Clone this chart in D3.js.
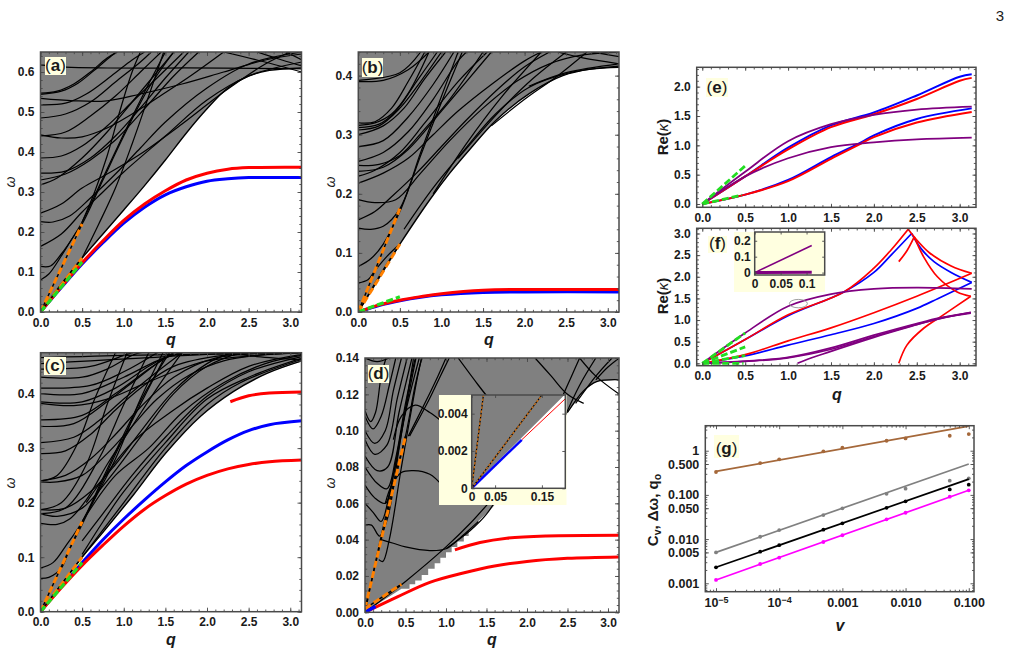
<!DOCTYPE html>
<html><head><meta charset="utf-8">
<style>
html,body{margin:0;padding:0;background:#fff}
svg{display:block}
text{font-family:"Liberation Sans",Arial,sans-serif;fill:#1a1a1a}
</style>
<script src="https://cdn.jsdelivr.net/npm/d3@7"></script>
</head><body>
<svg id="fig" width="1011" height="672"></svg>
<script>
const GREY = "#808080", RED = "#ff0000", BLUE = "#0000ff", PURPLE = "#800080",
      GREEN = "#22dd22", ORANGE = "#ff8000", CREAM = "#ffffe0", FRAME = "#4a4a4a";

// (a) dispersion, continuum edge, bound modes and continuum modes
const aEdge = [[0,0],[.25,.07],[.5,.135],[.75,.195],[1,.255],[1.25,.316],[1.5,.38],[1.75,.447],[2,.508],[2.25,.56],[2.5,.59],[2.75,.604],[3.14,.61]];
const aRed = [[0,0],[.25,.063],[.5,.123],[.75,.178],[1,.229],[1.25,.27],[1.5,.303],[1.75,.33],[2,.347],[2.25,.357],[2.5,.361],[3.14,.362]];
const aBlue = [[0,0],[.25,.061],[.5,.12],[.75,.173],[1,.222],[1.25,.262],[1.5,.293],[1.75,.313],[2,.327],[2.25,.333],[2.5,.336],[3.14,.336]];
const aOrange = [[[0,0],[.5,.22]],[[0,0],[.5,.135]]];
const aGreen = [[[0,0],[.5,.125]]];
const aModes = [
 [[0,.618],[.3,.612],[.8,.61],[1.5,.61],[2.2,.61],[3.14,.608]],
 [[0,.547],[.2,.552],[.4,.57],[.6,.6],[.8,.635],[.92,.65]],
 [[0,.544],[.25,.552],[.45,.572],[.65,.605],[.85,.64],[.92,.65]],
 [[0,.534],[.4,.528],[.8,.528],[1.2,.545],[1.7,.57],[2.2,.6],[2.7,.63],[3.14,.645]],
 [[0,.518],[.3,.522],[.55,.545],[.85,.59],[1.1,.63],[1.25,.65]],
 [[0,.485],[.3,.495],[.6,.525],[.9,.575],[1.2,.625],[1.33,.65]],
 [[0,.443],[.25,.435],[.5,.438],[.8,.46],[1.1,.495],[1.4,.535],[1.8,.59],[2.2,.65]],
 [[0,.44],[.3,.45],[.6,.49],[.9,.54],[1.2,.6],[1.45,.65]],
 [[0,.385],[.25,.39],[.5,.415],[.8,.465],[1.1,.525],[1.4,.585],[1.72,.65]],
 [[0,.347],[.3,.352],[.6,.385],[.9,.44],[1.2,.51],[1.5,.585],[1.78,.65]],
 [[0,.33],[.3,.345],[.6,.38],[.9,.43],[1.3,.52],[1.6,.59],[1.9,.65]],
 [[0,.318],[.2,.335],[.5,.385],[.8,.45],[1.1,.525],[1.4,.6],[1.6,.65]],
 [[0,.247],[.25,.27],[.5,.31],[.8,.345],[1.2,.395],[1.7,.47],[2.2,.55],[2.7,.62],[3,.65]],
 [[0,.226],[.15,.225],[.35,.24],[.6,.285],[.9,.345],[1.2,.41],[1.5,.475],[2,.56],[2.5,.62],[3.14,.65]],
 [[0,.164],[.25,.195],[.5,.25],[.75,.3],[1,.35],[1.5,.44],[2,.53],[2.5,.59],[3.14,.625]],
 [[0,.114],[.12,.115],[.25,.145],[.4,.19],[.5,.225],[.75,.335],[1,.445],[1.25,.55],[1.5,.65]],
 [[0,.08],[.1,.095],[.25,.14],[.4,.19],[.5,.22],[.75,.33],[1,.44],[1.3,.56],[1.6,.65]],
 [[.5,.135],[.7,.22],[.9,.31],[1.1,.42],[1.3,.54],[1.48,.65]],
 [[.5,.225],[.65,.3],[.8,.39],[.95,.5],[1.1,.6],[1.2,.65]],
 [[2.6,.65],[2.9,.63],[3.14,.615]],
 [[2.2,.65],[2.6,.63],[3.14,.6]],
 [[2.95,.65],[3.14,.63]]
];

// (b)
const bEdge = [[0,0],[.25,.06],[.5,.115],[.86,.19],[1.1,.235],[1.34,.275],[1.66,.325],[2.06,.37],[2.46,.4],[2.8,.411],[3.14,.414]];
const bRed = [[0,0],[.25,.012],[.5,.02],[.75,.026],[1,.031],[1.5,.037],[2,.038],[3.14,.038]];
const bBlue = [[0,0],[.25,.011],[.5,.019],[.75,.025],[1,.029],[1.5,.033],[2,.034],[3.14,.034]];
const bOrange = [[[0,0],[.5,.175]],[[0,0],[.5,.115]]];
const bGreen = [[[0,0],[.5,.026]]];
const bModes = [
 [[0,.39],[.3,.392],[.6,.41],[.85,.44]],
 [[0,.392],[.5,.405],[.75,.44]],
 [[0,.32],[.2,.322],[.4,.345],[.6,.39],[.8,.44]],
 [[0,.316],[.2,.32],[.4,.335],[.6,.37],[.85,.44]],
 [[0,.312],[.25,.318],[.45,.34],[.7,.39],[.95,.44]],
 [[0,.308],[.25,.315],[.5,.345],[.75,.39],[1,.44]],
 [[0,.3],[.3,.315],[.55,.345],[.8,.395],[1.05,.44]],
 [[0,.28],[.3,.29],[.6,.33],[.9,.385],[1.15,.44]],
 [[0,.255],[.3,.27],[.6,.305],[.9,.36],[1.2,.425],[1.3,.44]],
 [[0,.248],[.25,.25],[.5,.265],[.8,.31],[1.1,.36],[1.5,.44]],
 [[0,.238],[.3,.245],[.6,.275],[1,.34],[1.3,.39],[1.6,.44]],
 [[0,.23],[.2,.24],[.5,.27],[.8,.32],[1.2,.39],[1.55,.44]],
 [[0,.218],[.3,.235],[.6,.26],[.9,.3],[1.2,.34],[1.6,.385],[2,.425],[2.2,.44]],
 [[0,.19],[.2,.185],[.45,.19],[.75,.235],[1.1,.29],[1.5,.345],[1.9,.39],[2.3,.42],[2.7,.435],[3.14,.44]],
 [[0,.156],[.2,.17],[.4,.195],[.7,.235],[1,.28],[1.3,.325],[1.7,.38],[2,.415],[2.3,.44]],
 [[0,.142],[.15,.14],[.3,.145],[.5,.175],[.75,.27],[1,.365],[1.2,.44]],
 [[0,.077],[.15,.09],[.3,.115],[.5,.17],[.75,.265],[1,.355],[1.25,.44]],
 [[0,.049],[.12,.055],[.2,.07],[.35,.095],[.5,.115]],
 [[.55,.14],[.9,.21],[1.25,.27],[1.65,.335],[2.05,.38],[2.55,.405],[3.14,.416]],
 [[2.05,.382],[2.5,.405],[3.14,.42]],
 [[2.4,.44],[2.7,.43],[3.14,.42]],
 [[2.8,.44],[3.14,.432]],
 [[.9,.2],[1.3,.285],[1.7,.36],[2.2,.44]],
 [[1.2,.26],[1.7,.34],[2.1,.395],[2.5,.44]],
 [[1.6,.315],[2,.36],[2.4,.4],[2.75,.44]]
];

// (c)
const cEdge = [[0,0],[.25,.05],[.5,.1],[.72,.14],[1.12,.215],[1.5,.29],[1.92,.358],[2.32,.404],[2.72,.437],[3.14,.46]];
const cRedLow = [[0,0],[.25,.044],[.5,.085],[.75,.122],[1,.157],[1.25,.188],[1.5,.213],[1.75,.234],[2,.25],[2.25,.262],[2.5,.27],[2.75,.275],[3.14,.278]];
const cRedHigh = [[2.28,.385],[2.5,.396],[2.75,.401],[3.14,.403]];
const cBlue = [[0,0],[.25,.046],[.5,.09],[.75,.132],[1,.17],[1.25,.205],[1.5,.238],[1.75,.268],[2,.293],[2.25,.315],[2.5,.332],[2.75,.343],[3.14,.35]];
const cOrange = [[[0,0],[.5,.165]],[[0,0],[.5,.1]]];
const cGreen = [[[0,0],[.5,.09]]];
const cModes = [
 [[0,.08],[.15,.09],[.3,.12],[.5,.165],[.75,.245],[1,.325],[1.25,.4],[1.55,.475]],
 [[0,.061],[.1,.063],[.25,.08],[.35,.115],[.5,.16],[.75,.24],[1,.32],[1.25,.395],[1.52,.475]],
 [[0,.162],[.2,.16],[.35,.17],[.55,.205],[.8,.27],[1.1,.34],[1.4,.41],[1.7,.475]],
 [[0,.18],[.2,.175],[.5,.19],[.8,.24],[1.2,.32],[1.6,.4],[2,.45],[2.4,.475]],
 [[0,.187],[.3,.19],[.6,.22],[.9,.27],[1.2,.33],[1.6,.405],[2,.455],[2.3,.475]],
 [[0,.238],[.2,.238],[.5,.25],[.8,.29],[1.1,.34],[1.4,.39],[1.8,.435],[2.2,.46],[2.6,.47],[3.14,.475]],
 [[0,.24],[.3,.25],[.6,.28],[.9,.325],[1.2,.375],[1.6,.43],[2.1,.465],[3.14,.475]],
 [[0,.29],[.3,.295],[.6,.325],[.9,.37],[1.2,.41],[1.6,.45],[2.2,.47],[3.14,.475]],
 [[0,.31],[.4,.32],[.7,.35],[1,.39],[1.4,.44],[1.7,.475]],
 [[0,.34],[.4,.345],[.8,.385],[1.1,.42],[1.5,.465],[1.7,.475]],
 [[0,.352],[.5,.36],[.9,.4],[1.3,.445],[1.6,.475]],
 [[0,.382],[.4,.378],[.8,.39],[1.2,.415],[1.6,.44],[2,.46],[2.6,.47],[3.14,.475]],
 [[0,.385],[.5,.385],[.9,.41],[1.3,.45],[1.6,.475]],
 [[0,.4],[.5,.4],[1,.43],[1.4,.46],[1.7,.475]],
 [[0,.41],[.6,.415],[1,.44],[1.4,.475]],
 [[0,.43],[.5,.43],[.8,.445],[1.1,.47],[1.2,.475]],
 [[0,.445],[.6,.45],[1,.47],[1.1,.475]],
 [[0,.455],[.6,.46],[1.2,.465],[2,.472],[3.14,.475]],
 [[0,.466],[.5,.468],[1,.47],[3.14,.475]],
 [[.5,.1],[.75,.15],[1,.2],[1.5,.3],[2,.38],[2.4,.42],[3.14,.463]],
 [[.5,.105],[.75,.165],[1,.22],[1.5,.31],[2,.39],[2.5,.43],[3.14,.465]],
 [[.5,.13],[.75,.18],[1.1,.25],[1.5,.32],[2,.395],[2.5,.44],[3.14,.468]],
 [[.5,.165],[.9,.25],[1.3,.3],[1.7,.365],[2.2,.42],[2.7,.455],[3.14,.47]],
 [[.55,.2],[1.1,.31],[1.6,.37],[2,.41],[2.5,.45],[3.14,.472]],
 [[0,.187],[.25,.2],[.55,.27],[.8,.38],[1.04,.475]],
 [[.5,.165],[.9,.28],[1.2,.39],[1.47,.475]],
 [[0,.18],[.3,.19],[.7,.28],[1,.38],[1.3,.475]],
 [[0,.24],[.2,.25],[.45,.31],[.65,.39],[.9,.475]],
 [[2.2,.475],[2.6,.468],[3.14,.462]]
];

// (d) the lower edge of the shaded band is stepped up to q = 1.28
const dStairs = [[.45,.013],[.55,.0155],[.62,.0175],[.7,.0205],[.78,.024],[.86,.027],[.93,.03],[1,.033],[1.07,.036],[1.14,.039],[1.22,.042],[1.28,.045]];
const dEdgeRight = [[1.58,.058],[1.9,.078],[2.2,.092],[2.47,.108],[2.7,.122],[2.86,.127],[3.14,.128]];
const dRedLow = [[0,0],[.4,.0085],[.8,.0165],[1.2,.0215],[1.6,.0255],[2,.028],[2.5,.0297],[3.14,.0305]];
const dRedHigh = [[1.11,.0344],[1.42,.0384],[1.75,.0408],[2.24,.042],[3.14,.0424]];
const dBlue = [[0,0],[.13,.0032]];
const dOrange = [[[0,.002],[.5,.097]],[[0,.002],[.45,.0155]]];
const dModes = [
 [[0,.14],[.15,.138],[.3,.14]],
 [[0,.111],[.07,.105],[.13,.11],[.2,.13],[.26,.14]],
 [[0,.108],[.1,.101],[.2,.108],[.3,.125],[.38,.14]],
 [[0,.1],[.12,.093],[.25,.1],[.35,.122],[.45,.14]],
 [[0,.095],[.12,.087],[.27,.092],[.4,.118],[.52,.14]],
 [[0,.086],[.15,.078],[.28,.08],[.42,.11],[.58,.14]],
 [[0,.08],[.15,.071],[.27,.068],[.38,.085],[.5,.115],[.62,.14]],
 [[0,.07],[.12,.063],[.25,.06],[.35,.075],[.5,.11],[.67,.14]],
 [[0,.06],[.1,.055],[.2,.05],[.3,.065],[.45,.1],[.63,.14]],
 [[0,.048],[.08,.048],[.18,.042],[.28,.052],[.42,.09],[.6,.14]],
 [[.17,.029],[.22,.028],[.3,.04],[.45,.08],[.65,.13],[.7,.14]],
 [[.02,.004],[.2,.042],[.4,.08],[.5,.097],[.62,.125],[.7,.14]],
 [[.535,.097],[.76,.117],[.9,.13],[1,.14]],
 [[.55,.097],[.79,.117],[.93,.13],[1.04,.14]],
 [[.2,.04],[.35,.038],[.5,.036],[.8,.034],[1,.035],[1.2,.042],[1.4,.05]],
 [[.25,.06],[.33,.07],[.45,.077],[.6,.078],[.8,.076],[.95,.07]],
 [[.35,.095],[.45,.108],[.62,.114],[.8,.11],[.95,.105]],
 [[0,0],[.5,.017],[1,.036],[1.3,.049],[1.6,.064]],
 [[1,.035],[1.3,.045],[1.5,.054],[1.7,.068]],
 [[1.15,.14],[1.4,.125],[1.7,.108]],
 [[2.1,.14],[2.3,.13],[2.5,.12],[2.7,.115]],
 [[2.47,.108],[2.65,.125],[2.85,.14]],
 [[2.45,.12],[2.55,.13],[2.65,.14]],
 [[2.6,.115],[2.85,.13],[3.05,.14]],
 [[2.85,.128],[3,.135],[3.14,.14]],
 [[2.65,.14],[2.85,.13],[3.14,.12]],
 [[2.5,.11],[2.7,.122],[2.86,.127],[3.14,.128]]
];

// (d) inset, close-up near the origin
const dInsetEdge = [[0,0],[.2,.005]];
const dInsetOrange = [[[0,0],[.025,.005]],[[0,0],[.15,.005]]];
const dInsetBlue = [[0,0],[.107,.0026]];
const dInsetRed = [[.107,.0026],[.2,.0048]];

// (e) wavenumber against q
const eBlueLow = [[0,0],[.5,.16],[1,.41],[1.5,.8],[1.85,1.05],[2,1.17],[2.5,1.45],[3.14,1.63]];
const eRedLow = [[0,0],[.5,.16],[1,.39],[1.5,.77],[1.85,1.03],[2,1.14],[2.5,1.39],[3.14,1.57]];
const eBlueHigh = [[0,0],[.5,.47],[1,.96],[1.5,1.34],[2,1.56],[2.5,1.85],[3,2.17],[3.14,2.21]];
const eRedHigh = [[0,0],[.5,.47],[1,.93],[1.5,1.31],[2,1.53],[2.5,1.79],[3,2.1],[3.14,2.15]];
const ePurpleHigh = [[0,0],[.5,.55],[1,1.07],[1.5,1.36],[2,1.52],[2.5,1.61],[3.14,1.66]];
const ePurpleLow = [[0,0],[.5,.47],[1,.78],[1.5,.97],[2,1.05],[2.5,1.1],[3.14,1.13]];
const eGreen = [[[0,0],[.5,.65]],[[0,0],[.46,.15]]];

// (f) red and blue branches meet in cusps, so each side is its own trace
const fPurpleTop = [[0,0],[.5,.7],[1,1.32],[1.5,1.6],[2,1.72],[2.5,1.75],[3.14,1.72]];
const fRedRise = [[0,0],[.5,.55],[1,1.12],[1.65,1.65],[2,2.2],[2.2,2.62],[2.4,3.1]];
const fRedFall = [[2.4,3.1],[2.5,2.85],[2.65,2.55],[2.9,2.25],[3.14,2.08]];
const fBlueRise = [[0,0],[.5,.55],[1,1.1],[1.65,1.65],[2,2.1],[2.2,2.5],[2.44,3]];
const fBlueFall = [[2.44,3],[2.55,2.65],[2.7,2.35],[2.9,2.1],[3.14,1.87]];
const fBlueLow = [[0,0],[.5,.17],[1,.42],[1.5,.66],[2,.92],[2.5,1.27],[2.75,1.5],[3.14,1.87]];
const fRedLow = [[0,0],[.5,.2],[1,.52],[1.5,.82],[2,1.17],[2.5,1.55],[3.14,2.08]];
const fRedBranchUp = [[2.29,2.35],[2.385,2.6],[2.47,2.92]];
const fRedBranchDown = [[2.47,2.92],[2.58,2.46],[2.74,2],[2.97,1.65],[3.13,1.55]];
const fRedBranchLow = [[2.29,0],[2.385,.42],[2.58,.81],[2.81,1.12],[3.13,1.55]];
const fPurpleLowA = [[0,0],[.5,.05],[.98,.13],[1.49,.35],[2,.65],[2.5,.92],[2.77,1.05],[3.13,1.17]];
const fPurpleLowB = [[1.11,0],[1.22,.09],[1.49,.27],[2,.6],[2.5,.89],[2.77,1.04],[3.13,1.16]];
const fPurpleLowC = [[0,0],[.5,.045],[.98,.12],[1.49,.32],[2,.62],[2.5,.9],[2.77,1.03],[3.13,1.18]];
const fGreen = [[[0,0],[.5,.7]],[[0,0],[.5,.38]],[[0,0],[.5,.18]],[[0,0],[.48,0]]];
const fInsetPurple = [[0,0],[.11,.17]];
const fInsetFlat = [[0,0],[.11,.002]];

// (g) fitted power laws and measured points
const vValues = [1e-5,5e-5,1e-4,5e-4,1e-3,5e-3,.01,.05,.1];
const brownPts = [.33,.526,.637,.966,1.17,1.68,1.9,2.18,2.38];
const greyPts = [.005,.0113,.016,.035,.0496,.106,.138,.21,.237];
const blackPts = [.0023,.0052,.0073,.0163,.0227,.051,.0714,.133,.17];
const magentaPts = [.00119,.00273,.0038,.0086,.0122,.028,.0395,.091,.127];
const brownFit = [.34,3.6];
const greyFit = [.005,.5];
const blackFit = [.0023,.228];
const magentaFit = [.00119,.127];
const gXTicks = [1e-5,1e-4,1e-3,.01,.1];
const gYTicks = [1,.5,.1,.05,.01,.005,.001];
const gYTickLabels = ["1","0.500","0.100","0.050","0.010","0.005","0.001"];

const svg = d3.select("#fig");
const defs = svg.append("defs");
let clipCount = 0;

function steps(from, to, by){ return d3.range(Math.floor((to-from)/by+1e-9)+1).map(i => +(from+i*by).toFixed(6)); }

function panel(box, xDomain, yDomain, xScale = d3.scaleLinear(), yScale = d3.scaleLinear()){
  const x = xScale.domain(xDomain).range([box.x0, box.x1]);
  const y = yScale.domain(yDomain).range([box.y1, box.y0]);
  const id = "clip" + (clipCount++);
  defs.append("clipPath").attr("id", id).append("rect")
    .attr("x", box.x0).attr("y", box.y0).attr("width", box.x1-box.x0).attr("height", box.y1-box.y0);
  const g = svg.append("g");
  const marks = g.append("g").attr("clip-path", `url(#${id})`);
  return {box, x, y, g, marks};
}

const smooth = d3.curveCatmullRom.alpha(.5);
function traceLine(p, curve){ return d3.line().x(d => p.x(d[0])).y(d => p.y(d[1])).curve(curve || smooth); }

function stroke(p, pts, color, width, dash, curve){
  const s = p.marks.append("path").attr("d", traceLine(p, curve)(pts))
    .attr("fill","none").attr("stroke",color).attr("stroke-width",width).attr("stroke-linejoin","round");
  if (dash) s.attr("stroke-dasharray", dash);
  return s;
}

function frame(p, o){
  const {x, y, g, box} = p;
  const fs = o.fontSize || 12;
  const sides = [
    [() => d3.axisBottom(x), box.y1, 0, o.xTicks, o.xMinor, o.xFormat],
    [() => d3.axisTop(x), box.y0, 0, o.xTicks, o.xMinor, null],
    [() => d3.axisLeft(y), 0, box.x0, o.yTicks, o.yMinor, o.yFormat],
    [() => d3.axisRight(y), 0, box.x1, o.yTicks, o.yMinor, null]
  ];
  for (const [axis, ty, tx, major, minor, fmt] of sides) {
    const ag = g.append("g").attr("transform",`translate(${tx},${ty})`);
    const ma = axis().tickValues(major).tickSizeInner(-(o.major||4)).tickSizeOuter(0).tickPadding(o.padding||6)
      .tickFormat(fmt || (() => ""));
    const mi = axis().tickValues(minor||[]).tickSizeInner(-(o.minor||2.2)).tickSizeOuter(0).tickFormat(() => "");
    const a1 = ag.append("g").call(ma), a2 = ag.append("g").call(mi);
    [a1,a2].forEach(s => { s.select(".domain").remove();
      s.selectAll("line").attr("stroke",FRAME).attr("stroke-width",.9); });
    a1.selectAll("text").attr("font-family","Liberation Sans").attr("font-size",fs).attr("font-weight","bold").attr("fill","#1a1a1a");
    if (!fmt) a1.selectAll("text").remove();
    a2.selectAll("text").remove();
  }
  g.append("rect").attr("x",box.x0).attr("y",box.y0).attr("width",box.x1-box.x0).attr("height",box.y1-box.y0)
    .attr("fill","none").attr("stroke",FRAME).attr("stroke-width",1.5);
}

function tag(x0,y0,x1,y1,letter){
  svg.append("rect").attr("x",x0).attr("y",y0).attr("width",x1-x0).attr("height",y1-y0).attr("fill",CREAM);
  const t = svg.append("text").attr("x",(x0+x1)/2).attr("y",y1-4.5).attr("text-anchor","middle").attr("font-size",17);
  t.append("tspan").text("(");
  t.append("tspan").attr("font-weight","bold").text(letter);
  t.append("tspan").text(")");
}

function qLabel(x,y,txt="q"){
  svg.append("text").attr("x",x).attr("y",y).attr("text-anchor","middle")
    .attr("font-size",16).attr("font-weight","bold").attr("font-style","italic").text(txt);
}
function rotated(x,y,build){
  const t = svg.append("text").attr("transform",`translate(${x},${y}) rotate(-90)`).attr("text-anchor","middle");
  build(t);
}
const omegaLabel = (x,y) => rotated(x,y,t => t.attr("font-size",14).attr("font-style","italic").attr("font-family","DejaVu Sans").text("ω"));
const reKappa = (x,y) => rotated(x,y,t => {
  t.attr("font-size",15).attr("font-weight","bold");
  t.append("tspan").text("Re(");
  t.append("tspan").attr("font-style","italic").attr("font-weight","normal").text("κ");
  t.append("tspan").text(")");
});

const f1 = d3.format(".1f"), f2 = d3.format(".2f");
const qTicks = steps(0,3,.5), qMinor = steps(0,3.1,.1);

function shade(p, edge, xMax, yMax, curve){
  const pts = [...edge, [xMax, edge[edge.length-1][1]]];
  p.marks.append("path").attr("d", d3.area().x(d=>p.x(d[0])).y0(p.y(yMax)).y1(d=>p.y(d[1])).curve(curve || smooth)(pts)).attr("fill",GREY);
}

// Panels (a)-(c) share one recipe: shaded continuum, its modes, bound branches, small-q fits
function dispersion(box, yMax, edge, modes, branches, orange, green, yStep, yMinorStep){
  const p = panel(box,[0,3.135],[0,yMax]);
  shade(p, edge, 3.135, yMax);
  modes.forEach(m => stroke(p, m, "#000", 1.25));
  stroke(p, edge, "#000", 1.4);
  branches.forEach(([pts,col]) => stroke(p, pts, col, 3));
  orange.forEach(o => { stroke(p,o,"#000",1.4,null,d3.curveLinear); stroke(p,o,ORANGE,3,"7 3.5",d3.curveLinear); });
  green.forEach(o => stroke(p,o,GREEN,3.2,"7 3",d3.curveLinear));
  frame(p,{xTicks:qTicks,xMinor:qMinor,xFormat:f1,yTicks:steps(0,yMax,yStep),yMinor:steps(0,yMax,yMinorStep),yFormat:f1});
  return p;
}

dispersion({x0:40.5,x1:301.5,y0:52,y1:312},.65,aEdge,aModes,[[aBlue,BLUE],[aRed,RED]],aOrange,aGreen,.1,.02);
dispersion({x0:358.3,x1:619,y0:52,y1:312},.44,bEdge,bModes,[[bBlue,BLUE],[bRed,RED]],bOrange,bGreen,.1,.02);
dispersion({x0:40.5,x1:301.5,y0:352.7,y1:611.7},.475,cEdge,cModes,[[cBlue,BLUE],[cRedLow,RED],[cRedHigh,RED]],cOrange,cGreen,.1,.02);

// (d)
{
  const p = panel({x0:365,x1:619,y0:358,y1:612.3},[0,3.136],[0,.14]);
  const stairVerts = dStairs.flatMap((d,i) => i < dStairs.length-1 ? [d,[dStairs[i+1][0],d[1]]] : [d]);
  shade(p,[[0,0],...stairVerts,...dEdgeRight],3.136,.14,d3.curveLinear);
  dModes.forEach(m => stroke(p,m,"#000",1.25));
  stroke(p,dRedLow,RED,3); stroke(p,dRedHigh,RED,3); stroke(p,dBlue,BLUE,3.4,null,d3.curveLinear);
  dOrange.forEach(o => { stroke(p,o,"#000",1.4,null,d3.curveLinear); stroke(p,o,ORANGE,3,"7 3.5",d3.curveLinear); });
  frame(p,{xTicks:qTicks,xMinor:qMinor,xFormat:f1,yTicks:steps(0,.14,.02),yMinor:steps(0,.14,.004),yFormat:f2});

  svg.append("rect").attr("x",439).attr("y",395).attr("width",127.5).attr("height",110).attr("fill",CREAM);
  const q = panel({x0:471.7,x1:565.3,y0:395,y1:488.3},[0,.2],[0,.005]);
  q.marks.append("rect").attr("x",471.7).attr("y",395).attr("width",93.6).attr("height",93.3).attr("fill","#fff");
  shade(q,dInsetEdge,.2,.005,d3.curveLinear);
  stroke(q,dInsetEdge,"#ffffff",1.2,null,d3.curveLinear);
  stroke(q,dInsetRed,RED,1,null,d3.curveLinear);
  stroke(q,dInsetBlue,BLUE,2.4,null,d3.curveLinear);
  dInsetOrange.forEach(o => { stroke(q,o,"#000",1.2,null,d3.curveLinear); stroke(q,o,"#c8701a",1.4,"2.5 1.5",d3.curveLinear); });
  frame(q,{xTicks:[0,.05,.15],xMinor:[],xFormat:d=>d===0?"0":String(d),yTicks:[0,.002,.004],yMinor:[],yFormat:d=>d===0?"0":String(d),major:3,padding:4});
}

// (e)
{
  const p = panel({x0:696.7,x1:976,y0:67.3,y1:207.3},[-.065,3.19],[-.056,2.33]);
  [[eBlueLow,BLUE],[eRedLow,RED],[eBlueHigh,BLUE],[eRedHigh,RED]].forEach(([d,c]) => stroke(p,d,c,2));
  stroke(p,ePurpleHigh,PURPLE,1.8); stroke(p,ePurpleLow,PURPLE,1.8);
  eGreen.forEach(o => stroke(p,o,GREEN,2.8,"7 3",d3.curveLinear));
  frame(p,{xTicks:qTicks,xMinor:qMinor,xFormat:f1,yTicks:steps(0,2,.5),yMinor:steps(0,2.3,.1),yFormat:f1,major:3.5});
}

// (f)
{
  const p = panel({x0:696.7,x1:976,y0:228.3,y1:365.7},[-.065,3.19],[-.055,3.12]);
  [fBlueRise,fBlueFall,fBlueLow].forEach(d => stroke(p,d,BLUE,1.7));
  [fRedRise,fRedFall,fRedLow,fRedBranchUp,fRedBranchDown,fRedBranchLow].forEach(d => stroke(p,d,RED,1.7));
  [fPurpleLowA,fPurpleLowB,fPurpleLowC,fPurpleTop].forEach(d => stroke(p,d,PURPLE,1.7));
  fGreen.forEach(o => stroke(p,o,GREEN,2.8,"7 3",d3.curveLinear));
  p.marks.append("ellipse").attr("cx",p.x(1.12)).attr("cy",p.y(1.38)).attr("rx",9).attr("ry",4.2)
    .attr("fill","none").attr("stroke","#888").attr("stroke-width",.8);
  frame(p,{xTicks:qTicks,xMinor:qMinor,xFormat:f1,yTicks:steps(0,3,.5),yMinor:steps(0,3.1,.1),yFormat:f1,major:3.5});

  svg.append("rect").attr("x",734).attr("y",232).attr("width",91).attr("height",60).attr("fill",CREAM);
  const q = panel({x0:754.7,x1:824.7,y0:232,y1:275},[0,.135],[-.015,.255]);
  stroke(q,fInsetPurple,PURPLE,1.6,null,d3.curveLinear);
  stroke(q,fInsetFlat,PURPLE,3,null,d3.curveLinear);
  frame(q,{xTicks:[0,.05,.1],xFormat:d=>d===0?"0":String(d),yTicks:[0,.1,.2],yFormat:d=>d===0?"0":String(d),major:2.5,padding:4});
}

// (g)
{
  const p = panel({x0:705.3,x1:974,y0:425.7,y1:591.7},[6.77e-6,.121],[6.45e-4,3.68],d3.scaleLog(),d3.scaleLog());
  const series = [[brownFit,brownPts,"#a5683a"],[greyFit,greyPts,"#808080"],[blackFit,blackPts,"#000"],[magentaFit,magentaPts,"#ff00ff"]];
  const span = [vValues[0],vValues[vValues.length-1]];
  series.forEach(([fit,pts,col]) => {
    stroke(p,span.map((v,i) => [v,fit[i]]),col,1.7,null,d3.curveLinear);
    p.marks.selectAll(null).data(pts).join("circle")
      .attr("cx",(d,i) => p.x(vValues[i])).attr("cy",d => p.y(d)).attr("r",1.9).attr("fill",col);
  });
  const xMin = [], yMin = [];
  [-6,-5,-4,-3,-2,-1].forEach(e => [2,3,4,5,6,7,8,9].forEach(m => xMin.push(m*10**e)));
  [-4,-3,-2,-1,0].forEach(e => [2,3,4,5,6,7,8,9].forEach(m => yMin.push(m*10**e)));
  const inX = xMin.filter(v => v>6.77e-6 && v<.121), inY = yMin.filter(v => v>6.45e-4 && v<3.68);
  frame(p,{xTicks:gXTicks,xMinor:inX,xFormat:d => d<1e-3 ? "10^"+Math.round(Math.log10(d)) : d3.format(".3f")(d),
    yTicks:gYTicks,yMinor:inY,yFormat:d => gYTickLabels[gYTicks.indexOf(d)],major:3.5,minor:2,fontSize:12.5});
  // superscript exponents on the small-v tick labels
  p.g.selectAll("text").filter(function(){ return this.textContent.startsWith("10^"); }).each(function(){
    const [base,exp] = this.textContent.split("^"), s = d3.select(this).text("");
    s.append("tspan").text(base);
    s.append("tspan").attr("dy",-4).attr("font-size",9).text(exp.replace("-","−"));
  });
}

tag(45,57,66,75,"a"); tag(362,58,383,77,"b"); tag(44,357,66,375,"c"); tag(368,365,389,383,"d");
tag(706,78,728,97,"e"); tag(708,236,727,253,"f"); tag(714,435,739,458,"g");

qLabel(171,345); qLabel(489,345); qLabel(171,645); qLabel(492,645);
qLabel(837,400); qLabel(840,631,"v");
omegaLabel(15,182); omegaLabel(335,182); omegaLabel(15,483); omegaLabel(335,483);
reKappa(668,137); reKappa(668,296);
rotated(658,510,t => {
  t.attr("font-size",15).attr("font-weight","bold");
  t.append("tspan").text("C");
  t.append("tspan").attr("dy",3).attr("font-size",10.5).text("v");
  t.append("tspan").attr("dy",-3).text(", Δω, q");
  t.append("tspan").attr("dy",3).attr("font-size",10.5).text("o");
});

svg.append("text").attr("x",1000).attr("y",21).attr("text-anchor","middle")
  .attr("font-family","Liberation Serif").attr("font-size",15).text("3");
</script>
</body></html>
